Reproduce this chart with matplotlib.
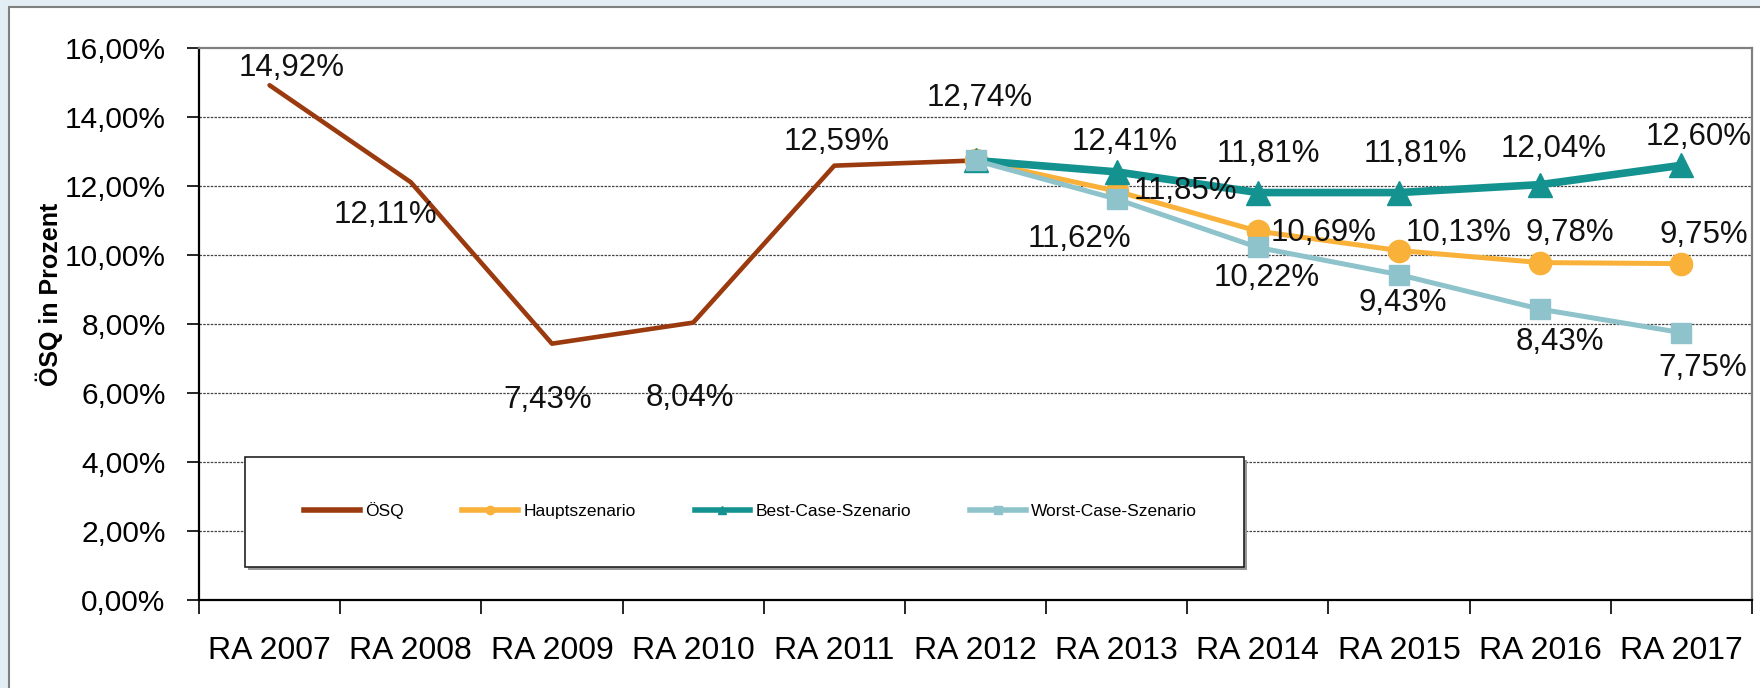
import matplotlib
matplotlib.use("Agg")
import matplotlib.pyplot as plt
from matplotlib.lines import Line2D
from matplotlib.patches import Rectangle
from matplotlib.ticker import FixedLocator, FuncFormatter

plt.rcParams["font.family"] = ["Liberation Sans", "DejaVu Sans"]

# data
categories = ["RA 2007", "RA 2008", "RA 2009", "RA 2010", "RA 2011", "RA 2012",
              "RA 2013", "RA 2014", "RA 2015", "RA 2016", "RA 2017"]
osq_values = [14.92, 12.11, 7.43, 8.04, 12.59, 12.74]
haupt_values = [12.74, 11.85, 10.69, 10.13, 9.78, 9.75]
best_values = [12.74, 12.41, 11.81, 11.81, 12.04, 12.60]
worst_values = [12.74, 11.62, 10.22, 9.43, 8.43, 7.75]
series_names = ["ÖSQ", "Hauptszenario", "Best-Case-Szenario", "Worst-Case-Szenario"]

# label offsets in pixels (dx, dy downwards)
osq_offsets = [(22, -17), (-25, 33), (-4, 56), (-3, 75), (2, -24), (4, -62)]
haupt_offsets = [None, (69, 0), (66, 2), (60, -18), (30, -30), (22, -29)]
best_offsets = [None, (8, -30), (11, -39), (16, -39), (13, -36), (17, -28)]
worst_offsets = [None, (-37, 40), (9, 31), (4, 28), (20, 33), (21, 35)]

C_OSQ = "#9a3a0e"
C_HAUPT = "#f9b13a"
C_BEST = "#13928f"
C_WORST = "#8ec3cc"


def pct(v):
    return f"{v:.2f}%".replace(".", ",")


fig = plt.figure(figsize=(17.6, 6.88), dpi=100)
fig.patch.set_facecolor("#e3edf4")
fig.patches.append(Rectangle((9 / 1760, -0.01), 1.0, 1 - 7 / 688 + 0.01, transform=fig.transFigure,
                             facecolor="white", edgecolor="#808080", linewidth=1.5, zorder=-10))

ax = fig.add_axes([199 / 1760, 1 - 600 / 688, (1752 - 199) / 1760, (600 - 48) / 688])
ax.set_facecolor("white")

x_osq = list(range(len(osq_values)))
x_scen = list(range(5, 5 + len(haupt_values)))

ax.plot(x_osq, osq_values, color=C_OSQ, linewidth=3.3, solid_capstyle="round", zorder=3)
ax.plot(x_scen, haupt_values, color=C_HAUPT, linewidth=3.6, marker="o", markersize=16, zorder=4)
ax.plot(x_scen, best_values, color=C_BEST, linewidth=5.5, marker="^", markersize=17, zorder=5)
ax.plot(x_scen, worst_values, color=C_WORST, linewidth=3.6, marker="s", markersize=15, zorder=6)

label_kw = dict(textcoords="offset pixels", ha="center", va="center", fontsize=22.5, color="#111111", zorder=8)
for xs, vals, offs in [(x_osq, osq_values, osq_offsets), (x_scen, haupt_values, haupt_offsets),
                       (x_scen, best_values, best_offsets), (x_scen, worst_values, worst_offsets)]:
    for x, v, off in zip(xs, vals, offs):
        if off is None:
            continue
        ax.annotate(pct(v), (x, v), xytext=(off[0], -off[1]), **label_kw)

ax.set_xlim(-0.5, len(categories) - 0.5)
ax.set_ylim(0, 16)
ax.yaxis.set_major_locator(FixedLocator(range(0, 17, 2)))
ax.yaxis.set_major_formatter(FuncFormatter(lambda v, p: pct(v)))
ax.set_xticks(range(len(categories)))
ax.set_xticklabels(categories)
ax.set_xticks([i - 0.5 for i in range(len(categories) + 1)], minor=True)
ax.tick_params(axis="x", which="major", length=0, pad=26, labelsize=23)
ax.tick_params(axis="x", which="minor", length=10, width=1.2, direction="out")
ax.tick_params(axis="y", length=9, width=1.2, pad=15, labelsize=21.5)

for y in range(2, 16, 2):
    ax.axhline(y, color="#444444", linewidth=0.9, linestyle=(0, (2, 1)), zorder=1)

for side in ["left", "bottom"]:
    ax.spines[side].set_color("black")
    ax.spines[side].set_linewidth(1.6)
for side in ["top", "right"]:
    ax.spines[side].set_color("#808080")
    ax.spines[side].set_linewidth(1.6)

ax.set_ylabel("ÖSQ in Prozent", fontsize=18, fontweight="bold", va="center")
ax.yaxis.set_label_coords(49 / 1760, 1 - 294 / 688, transform=fig.transFigure)

# legend box
fig.patches.append(Rectangle((248 / 1760, 1 - 570 / 688), 999 / 1760, 110 / 688, transform=fig.transFigure,
                             facecolor="#999999", edgecolor="none", zorder=9))
fig.patches.append(Rectangle((245 / 1760, 1 - 567 / 688), 999 / 1760, 110 / 688, transform=fig.transFigure,
                             facecolor="white", edgecolor="#222222", linewidth=1.2, zorder=10))
handles = [
    Line2D([], [], color=C_OSQ, linewidth=4),
    Line2D([], [], color=C_HAUPT, linewidth=4, marker="o", markersize=6),
    Line2D([], [], color=C_BEST, linewidth=4, marker="^", markersize=6),
    Line2D([], [], color=C_WORST, linewidth=4, marker="s", markersize=6),
]
leg = fig.legend(handles, series_names, loc="center left", bbox_to_anchor=(304 / 1760, 1 - 511 / 688),
                 ncol=4, frameon=False, fontsize=12.5, handlelength=3.2, handletextpad=0.3,
                 columnspacing=3.4, borderpad=0, borderaxespad=0)
leg.set_zorder(11)

fig.savefig("out.png", dpi=100, facecolor=fig.get_facecolor())
